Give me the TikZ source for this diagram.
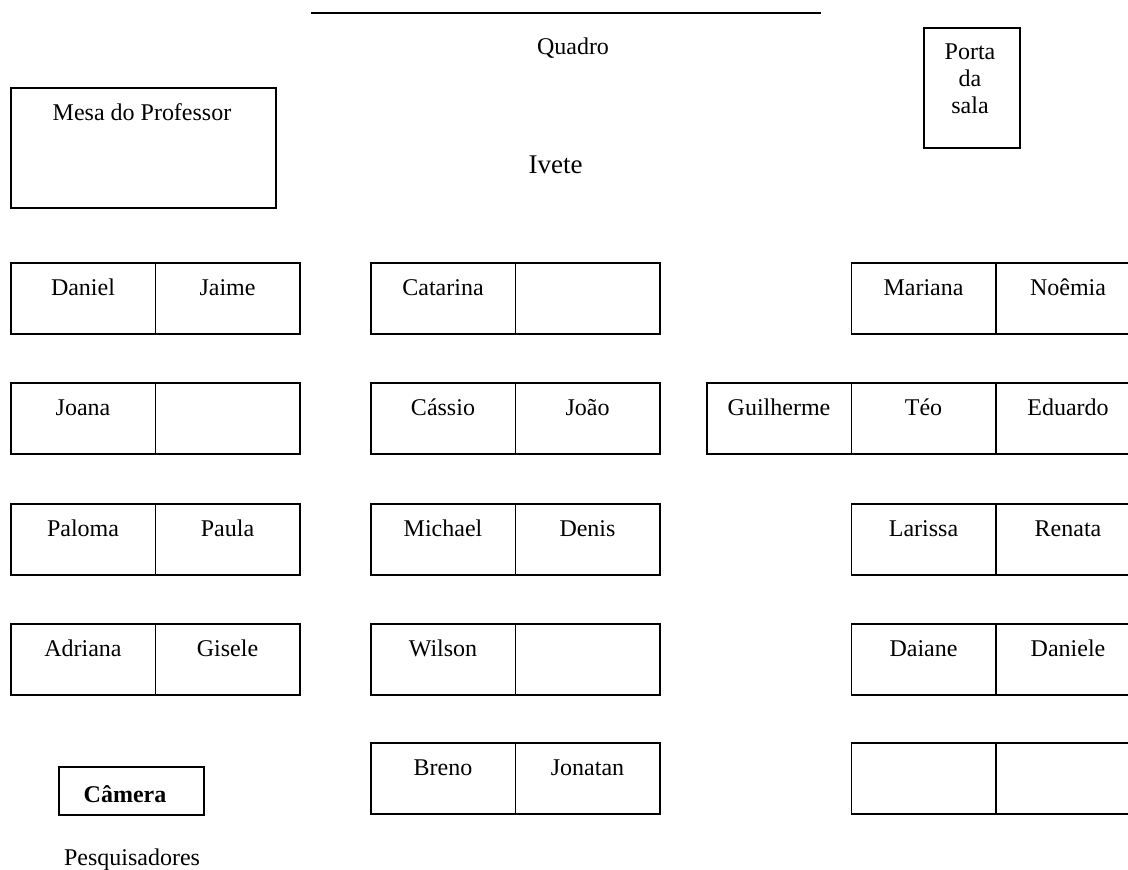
\documentclass[tikz,border=0pt]{standalone}
\usepackage{fontspec}
\setmainfont{Liberation Serif}
\begin{document}
\begin{tikzpicture}[x=1pt,y=-1pt,
  box/.style={draw,line width=1.5pt,inner sep=0pt,anchor=north west},
  cell/.style={box,minimum width=144.5pt,minimum height=71pt},
  txt/.style={inner sep=0pt,anchor=base,font=\fontsize{24}{28}\selectfont},
  big/.style={inner sep=0pt,anchor=base,font=\fontsize{27}{31}\selectfont}]
\useasboundingbox (0,0) rectangle (1128,870);
\clip (0,0) rectangle (1128,870);
% board
\coordinate (qa) at (311,13);
\coordinate (qb) at (821,13);
\draw[line width=1.6pt] (qa) -- (qb);
\node[txt] (quadro) at (573,54) {Quadro};
% teacher desk
\node[box,minimum width=265pt,minimum height=120pt] (mesa) at (10,87) {};
\node[txt] (mesalbl) at (142,120) {Mesa do Professor};
% door
\node[box,minimum width=96pt,minimum height=120pt] (porta) at (923,27) {};
\node[txt] (p1) at (970,59) {Porta};
\node[txt] (p2) at (970,86) {da};
\node[txt] (p3) at (970,113) {sala};
\node[big] (ivete) at (555.5,173) {Ivete};
% left block
\foreach \r/\y/\a/\b in {1/262/Daniel/Jaime,2/382/Joana/,3/503/Paloma/Paula,4/623/Adriana/Gisele}{
  \node[cell] (L\r a) at (10,\y) {};
  \node[cell] (L\r b) at (154.5,\y) {};
  \node[txt] (L\r at) at ([yshift=-33pt]L\r a.north) {\a};
  \node[txt] (L\r bt) at ([yshift=-33pt]L\r b.north) {\b};
}
% middle block
\foreach \r/\y/\a/\b in {1/262/Catarina/,2/382/Cássio/João,3/503/Michael/Denis,4/623/Wilson/,5/742/Breno/Jonatan}{
  \node[cell] (M\r a) at (370,\y) {};
  \node[cell] (M\r b) at (514.5,\y) {};
  \node[txt] (M\r at) at ([yshift=-33pt]M\r a.north) {\a};
  \node[txt] (M\r bt) at ([yshift=-33pt]M\r b.north) {\b};
}
% right block
\foreach \r/\y/\a/\b in {1/262/Mariana/Noêmia,2/382/Téo/Eduardo,3/503/Larissa/Renata,4/623/Daiane/Daniele,5/742//}{
  \node[cell] (R\r a) at (850.5,\y) {};
  \node[cell] (R\r b) at (995,\y) {};
  \node[txt] (R\r at) at ([yshift=-33pt]R\r a.north) {\a};
  \node[txt] (R\r bt) at ([yshift=-33pt]R\r b.north) {\b};
}
\node[cell] (G) at (706,382) {};
\node[txt] (Gt) at ([yshift=-33pt]G.north) {Guilherme};
% camera
\node[box,minimum width=145pt,minimum height=48pt] (cam) at (58,766) {};
\node[txt,font=\fontsize{24}{28}\selectfont\bfseries] (camt) at (125,802) {Câmera};
\node[txt] (pesq) at (132,865) {Pesquisadores};
\end{tikzpicture}
\end{document}
